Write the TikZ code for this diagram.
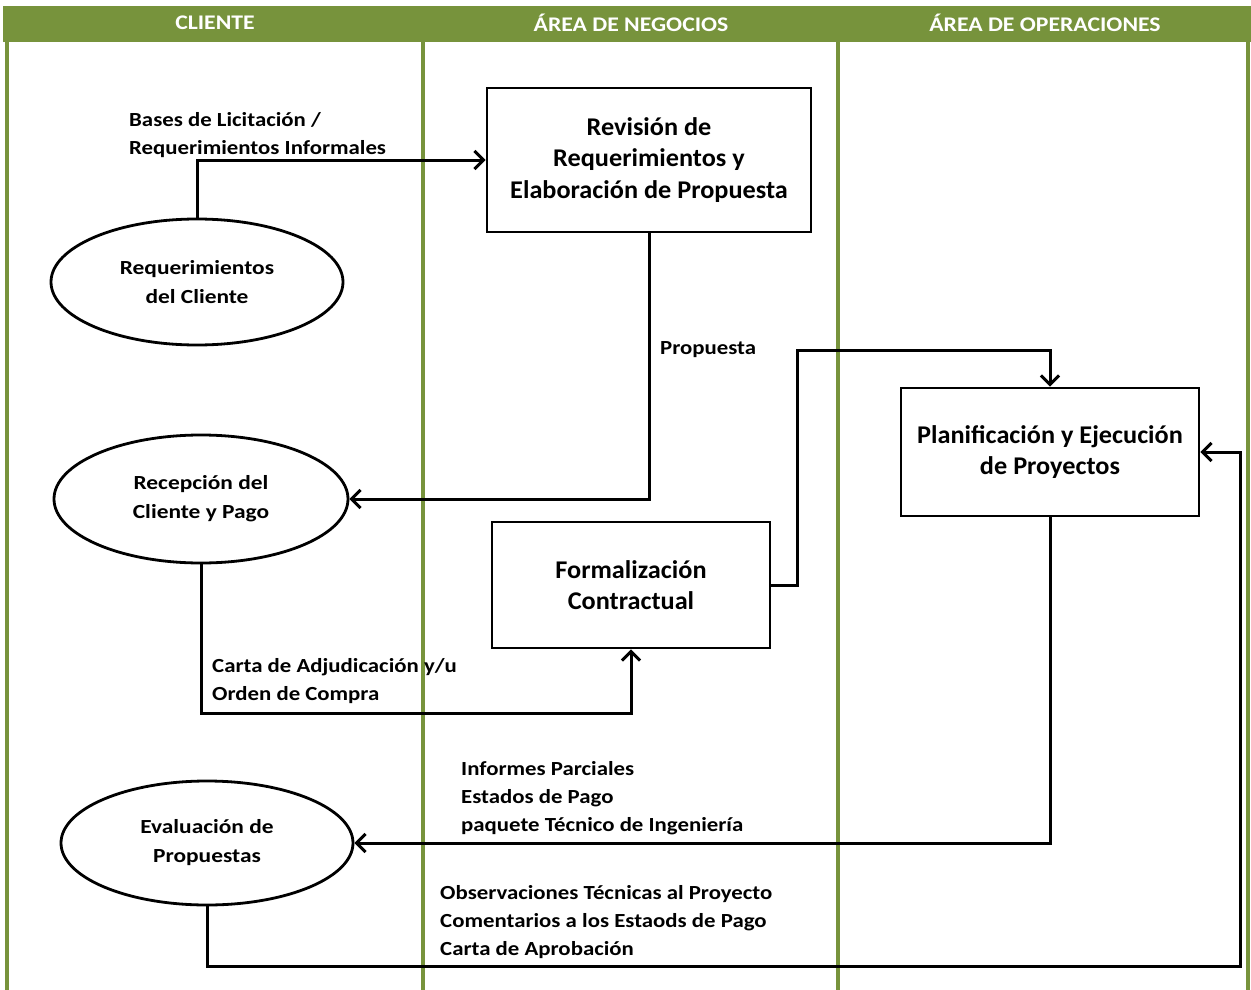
\documentclass[tikz,border=0pt]{standalone}
\usepackage{fontspec}
\setmainfont{Carlito}
\newfontfamily\labelfont{Carlito}[FakeStretch=1.14]
\newfontfamily\actorfont{Carlito}[FakeStretch=1.17]
\newfontfamily\boxfont{Carlito}[FakeStretch=1.03]
\newfontfamily\headfont{Carlito}[FakeStretch=1.14]
\usetikzlibrary{shapes.geometric,arrows.meta}
\definecolor{lanegreen}{HTML}{77933C}
\begin{document}
\begin{tikzpicture}[x=1pt,y=-1pt,
  lane/.style={draw=lanegreen,line width=4pt},
  hdrtext/.style={text=white,font=\headfont\bfseries\fontsize{20.8}{24}\selectfont},
  procbox/.style={draw,line width=2.8pt,align=center,font=\boxfont\bfseries\fontsize{25.5}{31.5}\selectfont},
  actor/.style={draw,ellipse,line width=2.8pt,align=center,inner sep=0pt,
    minimum width=292pt,minimum height=126pt,font=\actorfont\bfseries\fontsize{20}{29}\selectfont},
  flow/.style={line width=3pt,-{Straight Barb[length=9pt,width=18pt,line width=3pt]}},
  flowlabel/.style={align=left,anchor=west,inner sep=0pt,font=\labelfont\bfseries\fontsize{20}{28}\selectfont}]
\useasboundingbox (0,0) rectangle (1251,990);

% swimlane header and dividers
\fill[lanegreen] (3,6) rectangle (1251,42);
\draw[lane] (7,42) -- (7,990);
\draw[lane] (423,42) -- (423,990);
\draw[lane] (838,42) -- (838,990);
\draw[lane] (1248,42) -- (1248,990);
\node[hdrtext] (h1) at (215,23) {CLIENTE};
\node[hdrtext] (h2) at (631,23) {ÁREA DE NEGOCIOS};
\node[hdrtext] (h3) at (1045,23) {ÁREA DE OPERACIONES};

% client actions
\node[actor] (e1) at (197,282) {Requerimientos\\del Cliente};
\node[actor,minimum width=294pt,minimum height=128pt] (e2) at (201,499) {Recepción del\\Cliente y Pago};
\node[actor,minimum width=292pt,minimum height=124pt] (e3) at (207,843) {Evaluación de\\Propuestas};

% process boxes
\node[procbox,minimum width=324pt,minimum height=144pt] (b1) at (649,160) {Revisión de\\Requerimientos y\\Elaboración de Propuesta};
\node[procbox,minimum width=278pt,minimum height=126pt] (b2) at (631,585) {Formalización\\Contractual};
\node[procbox,minimum width=298pt,minimum height=128pt] (b3) at (1050,452) {Planificación y Ejecución\\de Proyectos};

% bend points
\coordinate (c3) at (200,713);
\coordinate (c4) at (797,350);
\coordinate (c6) at (1240,966);

% connectors
\draw[flow] (e1.north) |- (b1.west);
\draw[flow] (b1.south) |- (e2.east);
\draw[flow] (e2.south) -- (e2.south |- c3) -| (b2.south);
\draw[flow] (b2.east) -| (c4) -| (b3.north);
\draw[flow] (b3.south) |- (e3.east);
\draw[flow] (e3.south) |- (c6) |- (b3.east);

% connector labels
\node[flowlabel] (l1) at (129,135.5) {Bases de Licitación /\\Requerimientos Informales};
\node[flowlabel] (l2) at (660,350) {Propuesta};
\node[flowlabel] (l3) at (212,681) {Carta de Adjudicación y/u\\Orden de Compra};
\node[flowlabel] (l4) at (461,798.5) {Informes Parciales\\Estados de Pago\\paquete Técnico de Ingeniería};
\node[flowlabel] (l5) at (440,922) {Observaciones Técnicas al Proyecto\\Comentarios a los Estaods de Pago\\Carta de Aprobación};
\end{tikzpicture}
\end{document}
